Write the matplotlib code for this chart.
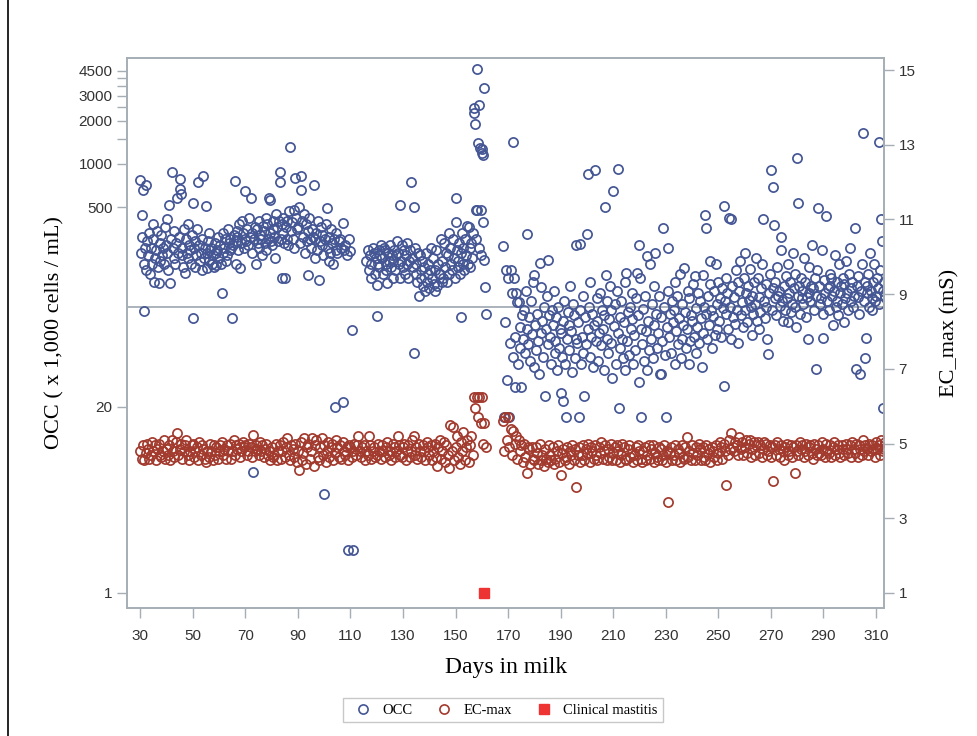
import matplotlib.pyplot as plt
from matplotlib.lines import Line2D
from matplotlib.ticker import FixedLocator, NullFormatter

# OCC readings (x 1,000 cells/mL), one inner list per day in milk
occ_start_a = 30
occ_a = [
    [770, 240, 310, 440], [660, 94, 200, 260], [710, 180, 290], [230, 330, 170], [260, 200, 380],
    [300, 150, 220], [250, 340, 190], [147, 280, 210], [320, 230, 260], [200, 360, 270],
    [410, 240, 180], [520, 147, 300], [880, 260, 220], [340, 200, 280], [575, 240, 310],
    [790, 670, 620, 230], [260, 190, 350], [172, 300, 240], [220, 380, 270], [250, 200, 320],
    [530, 84, 260, 290], [190, 230, 350], [750, 270, 210], [240, 300, 180], [820, 220, 260],
    [505, 188, 240, 290], [210, 330, 250], [260, 200, 230], [190, 280, 240], [197, 250, 310],
    [220, 270, 200], [125, 240, 330], [260, 300, 210], [230, 350, 280], [300, 250, 260],
    [84, 270, 320], [760, 200, 290, 340], [310, 250, 380], [188, 280, 400], [330, 260, 300],
    [650, 290, 350], [270, 420, 310], [575, 330, 240], [7.0, 300, 360], [200, 350, 280],
    [260, 400, 320], [300, 230, 370], [340, 280, 420], [250, 380, 300], [575, 560, 330, 290],
    [270, 400, 350], [310, 220, 450], [360, 290, 400], [880, 750, 300, 380], [160, 330, 420, 280],
    [160, 360, 300], [400, 270, 470], [1320, 340, 390], [300, 480, 260], [800, 420, 350],
    [360, 500, 280], [820, 655, 400], [310, 450, 240], [380, 290, 340], [167, 420, 300],
    [260, 350, 310], [710, 300, 220], [330, 250, 400], [155, 290, 360], [270, 320, 230],
    [4.9, 300, 380], [490, 260, 210], [310, 240, 350], [280, 200, 300], [20, 330, 250],
    [240, 290], [300, 260], [21.6, 385, 250], [270, 230], [2.0, 300],
    [245, 69], [2.0],
]

occ_start_b = 116
occ_b = [
    [210, 250], [180, 230, 160], [200, 260], [240, 170, 220], [87, 142, 200, 250],
    [190, 230, 270], [220, 170, 260], [250, 200, 180], [147, 240, 210], [270, 190, 230],
    [210, 160, 250], [180, 230, 290], [240, 200, 160], [515, 210, 270], [190, 250, 170],
    [230, 280, 200], [160, 210, 250], [750, 220, 190], [48, 500, 260, 170], [200, 150, 240],
    [119, 230, 180], [160, 210, 140], [190, 130, 240], [150, 200, 170], [135, 180, 260],
    [160, 220, 145], [180, 130, 250], [140, 200, 170], [170, 300, 150], [210, 160, 280],
    [190, 240, 150], [230, 170, 330], [260, 200, 180], [300, 220, 160], [575, 395, 250, 190],
    [210, 280, 170], [85, 240, 330, 200], [260, 180, 300], [230, 370, 200], [360, 260, 190],
    [280, 220, 330], [2450, 2270, 1900, 480, 300], [4600, 480, 1400, 260],
    [2600, 1300, 480, 230], [1280, 1200, 1150, 395, 213], [3400, 138, 89],
]

occ_start_c = 168
occ_c = [
    [268, 17], [79, 180, 31], [160, 17, 56], [180, 125, 45], [1420, 160, 62, 27.6],
    [125, 108, 40], [108, 72, 52], [27.6, 88, 60], [95, 48, 130], [323, 70, 55],
    [85, 42, 110], [65, 150, 38], [167, 75, 50], [90, 58, 34], [203, 138, 66],
    [80, 45, 100], [24, 70, 120], [213, 55, 88], [62, 40, 95], [75, 130, 48],
    [58, 85, 36], [100, 52, 70], [25, 66, 45, 22], [80, 110, 40], [17, 60, 92],
    [50, 75, 140], [68, 35, 105], [88, 44, 60], [270, 56, 78], [17, 275, 95, 40],
    [62, 120, 48], [24, 85, 55], [325, 850, 70, 100], [45, 150, 62], [90, 38, 75],
    [910, 58, 115], [80, 42, 66], [125, 54, 95], [70, 36, 88], [500, 167, 60, 110],
    [48, 82, 140], [95, 56, 32], [650, 74, 105], [40, 130, 66], [930, 19.7, 85, 52],
    [110, 60, 44], [78, 150, 36], [172, 58, 92], [46, 100, 70], [82, 125, 40],
    [64, 50, 115], [172, 88, 30], [270, 160, 17, 70], [55, 96, 42], [120, 68, 36],
    [227, 80, 50], [200, 60, 105], [44, 140, 75], [240, 90, 52], [66, 120, 34],
    [34, 85, 58], [355, 100, 46], [17, 72, 130], [260, 62, 90], [48, 110, 78],
    [95, 40, 150], [68, 120, 55], [84, 170, 44], [105, 60, 75], [188, 92, 52],
    [70, 130, 40], [115, 58, 88], [80, 145, 62], [164, 98, 48], [72, 125, 56],
    [110, 84, 38], [167, 66, 100], [440, 355, 90, 60], [120, 75, 145], [210, 95, 52],
    [86, 130, 64], [200, 105, 70], [150, 80, 115], [62, 135, 98], [505, 28, 110, 160],
    [90, 125, 70], [420, 100, 60], [410, 140, 85], [118, 76, 180], [95, 150, 56],
    [130, 210, 88], [108, 72, 160], [240, 95, 125], [78, 140, 112], [185, 100, 64],
    [120, 90, 150], [105, 220, 80], [160, 118, 70], [92, 135, 200], [410, 110, 84],
    [145, 100, 60], [47, 125, 170], [910, 95, 135], [690, 375, 115, 150], [88, 190, 120],
    [130, 102, 250], [307, 110, 80], [140, 95, 165], [115, 78, 200], [125, 150, 92],
    [105, 240, 135], [170, 100, 72], [1100, 530, 120, 140], [90, 160, 115], [130, 105, 220],
    [150, 85, 118], [60, 190, 125], [110, 140, 270], [135, 95, 160], [37, 120, 180],
    [495, 140, 105], [115, 250, 90], [61, 155, 125], [435, 110, 135], [95, 170, 140],
    [160, 120, 75], [130, 230, 100], [110, 150, 88], [200, 125, 140], [105, 160, 78],
    [145, 115, 210], [125, 95, 170], [260, 135, 110], [150, 100, 120], [355, 37, 140],
    [118, 165, 90], [34, 130, 200], [1650, 110, 150], [44, 61, 140, 125], [170, 100, 240],
    [130, 115, 95], [150, 200, 110], [120, 160, 135], [1430, 105, 180], [410, 290, 19.7, 130],
    [150, 120],
]

# EC_max (mS), two milkings per day
ec_start_a = 30
ec_a = [
    4.8, 4.6, 4.95, 4.55, 4.75, 5.0, 4.85, 4.6, 4.7, 5.05, 4.8, 4.95, 4.55, 4.85, 5.0, 4.7, 4.65, 4.8, 5.1, 4.6,
    4.85, 4.7, 4.95, 4.55, 5.1, 4.8, 4.65, 5.05, 5.28, 4.7, 4.85, 5.0, 4.6, 4.8, 4.95, 5.1, 4.7, 4.55, 4.8, 4.95,
    5.0, 4.65, 4.8, 4.9, 4.55, 5.05, 4.7, 4.95, 4.85, 4.6, 4.5, 4.8, 4.65, 5.0, 4.8, 4.55, 4.95, 4.7, 4.9, 4.6,
    4.8, 4.95, 5.05, 4.7, 4.85, 4.6, 4.95, 4.8, 5.0, 4.6, 4.8, 5.1, 4.7, 4.95, 4.85, 5.0, 4.65, 4.8, 5.05, 4.9,
    4.95, 4.7, 4.8, 5.0, 4.9, 4.65, 5.23, 4.8, 4.95, 4.85, 4.7, 5.05, 4.8, 4.95, 4.65, 4.85, 5.0, 4.7, 4.8, 4.55,
    4.9, 4.65, 4.7, 5.0, 4.55, 4.8, 4.95, 4.6, 4.8, 5.05, 4.65, 4.9, 5.15, 4.7, 4.55, 4.95, 4.85, 4.65, 5.0, 4.5,
    4.8, 4.3, 5.05, 4.55, 4.75, 5.15, 4.45, 4.9, 5.0, 4.6, 4.8, 5.15, 4.4, 4.95, 5.1, 4.65, 4.55, 4.9, 5.15, 4.7,
    4.95, 4.5, 4.8, 5.05, 4.65, 4.9, 5.0, 4.55, 4.75, 5.1, 4.9, 4.65, 4.95, 4.6, 5.05, 4.8, 4.7, 4.9, 4.55, 4.95,
    4.9, 4.65, 4.8, 5.0, 4.7, 4.95, 5.2, 4.8, 4.65, 4.9, 4.95, 4.55, 4.8, 4.7, 5.2, 4.95, 4.6, 4.8, 4.9, 4.65,
    4.7, 5.0, 4.8, 4.6, 4.95, 4.8, 4.65, 4.9, 5.05, 4.7, 4.8, 4.55, 5.0, 4.9, 4.65, 4.8, 5.2, 4.95, 4.7, 4.65,
    4.9, 5.0, 4.55, 4.8, 4.95, 4.65, 4.8, 5.1, 5.2, 4.7, 4.9, 4.6, 5.0, 4.8, 4.65, 4.95, 4.8, 4.55, 5.05, 4.9,
    4.7, 4.95, 4.55, 4.8, 5.0, 4.65, 4.4, 4.9, 5.1, 4.6, 4.8, 5.05, 4.5, 4.95, 4.7, 4.35, 5.5, 4.8, 5.45, 4.55,
    4.9, 5.2, 4.65, 4.45, 5.05, 4.8, 5.3, 4.55, 4.9, 5.1, 4.5, 4.95, 5.2, 4.7, 6.25, 5.95, 6.25, 5.7, 6.25, 5.55,
    6.25, 5.0, 5.55, 4.9,
]

ec_start_b = 168
ec_b = [
    5.6, 4.8, 5.7, 5.1, 5.7, 4.9, 5.4, 4.7, 5.35, 5.0, 5.2, 4.6, 5.1, 4.8, 4.95, 4.5, 5.0, 4.65, 4.2, 4.9,
    4.85, 4.45, 4.9, 4.6, 4.55, 4.9, 4.75, 4.45, 5.0, 4.55, 4.7, 4.4, 4.85, 4.6, 4.5, 4.95, 4.7, 4.55, 4.9, 4.45,
    4.6, 4.8, 4.95, 4.5, 4.15, 4.75, 4.85, 4.55, 4.65, 4.9, 4.45, 4.8, 4.7, 4.95, 4.55, 4.85, 3.84, 4.7, 4.9, 4.5,
    4.7, 4.95, 4.55, 4.85, 4.75, 5.0, 4.5, 4.9, 4.8, 4.6, 4.95, 4.7, 4.55, 4.9, 4.75, 5.05, 4.6, 4.8, 4.95, 4.55,
    4.85, 4.65, 5.0, 4.55, 4.75, 4.9, 4.55, 4.95, 4.8, 4.5, 4.7, 5.0, 4.9, 4.6, 4.55, 4.85, 4.95, 4.65, 4.75, 4.5,
    4.7, 4.9, 4.55, 4.95, 4.8, 4.6, 4.5, 4.8, 4.9, 4.55, 4.7, 4.95, 4.6, 4.85, 4.95, 4.5, 4.75, 4.65, 4.55, 4.9,
    4.85, 4.55, 4.7, 4.95, 4.5, 4.8, 3.44, 4.75, 4.9, 4.55, 4.7, 4.95, 4.55, 4.85, 4.75, 4.5, 4.95, 4.65, 4.6, 4.9,
    5.18, 4.65, 4.8, 4.55, 4.95, 4.75, 4.55, 4.9, 4.7, 5.0, 4.85, 4.55, 4.9, 4.65, 4.55, 4.95, 4.75, 4.85, 4.5, 4.9,
    4.8, 4.65, 4.95, 4.55, 4.75, 5.05, 4.9, 4.6, 5.0, 4.8, 3.9, 4.7, 5.1, 4.85, 5.28, 4.9, 4.8, 5.05, 4.95, 4.7,
    5.18, 4.85, 5.05, 4.7, 4.9, 5.1, 4.75, 5.0, 5.1, 4.65, 4.85, 5.05, 4.7, 4.95, 5.05, 4.75, 4.95, 4.65, 4.85, 5.05,
    5.0, 4.7, 4.8, 4.95, 4.65, 4.9, 4.0, 4.95, 4.7, 5.05, 4.85, 4.65, 4.95, 4.8, 4.55, 4.9, 5.0, 4.7, 4.8, 4.95,
    4.65, 4.9, 4.2, 4.95, 4.8, 4.7, 5.05, 4.85, 4.95, 4.65, 4.8, 5.0, 4.7, 4.9, 4.95, 4.75, 4.6, 5.0, 4.85, 4.7,
    4.95, 4.75, 4.7, 5.05, 4.85, 4.65, 5.0, 4.8, 4.75, 4.95, 4.65, 4.9, 5.05, 4.7, 4.85, 4.95, 4.75, 4.65, 4.95, 4.85,
    4.7, 5.0, 4.85, 4.75, 4.95, 4.65, 5.05, 4.85, 4.75, 5.0, 4.65, 4.95, 4.85, 4.7, 5.1, 4.8, 4.95, 4.85, 4.7, 5.0,
    4.8, 4.95, 4.85, 4.65, 5.05, 4.85, 4.95, 4.7, 5.1, 4.8, 4.85, 5.05,
]

mastitis_day = [161]
mastitis_val = [1]

occ_ticks = [1, 20, 500, 1000, 2000, 3000, 4500]
occ_minor = [1500, 2500, 3500, 4000]
ec_ticks = [1, 3, 5, 7, 9, 11, 13, 15]
day_ticks = list(range(30, 311, 20))
occ_threshold = 100

BLUE = '#445694'
RED = '#A23A2E'
GRID = '#A5ADB5'
TICKC = '#333333'


def expand(start, per_day):
    xs, ys = [], []
    for i, vals in enumerate(per_day):
        for j, v in enumerate(vals):
            xs.append(start + i + j / len(vals))
            ys.append(v)
    return xs, ys


occ_x, occ_y = [], []
for st, seg in [(occ_start_a, occ_a), (occ_start_b, occ_b), (occ_start_c, occ_c)]:
    xs, ys = expand(st, seg)
    occ_x += xs
    occ_y += ys

ec_x = [ec_start_a + i / 2 for i in range(len(ec_a))] + [ec_start_b + i / 2 for i in range(len(ec_b))]
ec_y = ec_a + ec_b

plt.rcParams['font.family'] = 'Liberation Sans'
fig = plt.figure(figsize=(9.78, 7.36), dpi=100)
ax = fig.add_axes([0.130, 0.174, 0.774, 0.747])
ax2 = ax.twinx()

mk = dict(marker='o', linestyle='none', markersize=6.6, markerfacecolor='none', markeredgewidth=1.25)
ax.plot(occ_x, occ_y, markeredgecolor=BLUE, **mk)
ax.axhline(occ_threshold, color=GRID, lw=1.3, zorder=1)
ax.plot(mastitis_day, mastitis_val, marker='s', linestyle='none', markersize=7,
        color='#EE3333', clip_on=False, zorder=5)
ax2.plot(ec_x, ec_y, markeredgecolor=RED, **mk)

ax.set_yscale('log')
ax.set_ylim(0.785, 5500)
ax2.set_ylim(0.6, 15.32)
ax.set_xlim(25, 313.1)

ax.set_yticks(occ_ticks)
ax.set_yticklabels([str(t) for t in occ_ticks])
ax.yaxis.set_minor_locator(FixedLocator(occ_minor))
ax.yaxis.set_minor_formatter(NullFormatter())
ax.set_xticks(day_ticks)
ax2.set_yticks(ec_ticks)

for a in (ax, ax2):
    for s in a.spines.values():
        s.set_color(GRID)
        s.set_linewidth(1.2)
    a.tick_params(which='both', color=GRID, width=1, labelcolor=TICKC, labelsize=11, length=7)
ax.tick_params(axis='x', pad=8)

ax.set_xlabel('Days in milk', family='Liberation Serif', fontsize=17, labelpad=10)
ax.set_ylabel('OCC ( x 1,000 cells / mL)', family='Liberation Serif', fontsize=16, labelpad=10)
ax2.set_ylabel('EC_max (mS)', family='Liberation Serif', fontsize=16, labelpad=18)

handles = [
    Line2D([], [], marker='o', linestyle='none', markersize=6.6, markerfacecolor='none',
           markeredgecolor=BLUE, markeredgewidth=1.2),
    Line2D([], [], marker='o', linestyle='none', markersize=6.6, markerfacecolor='none',
           markeredgecolor=RED, markeredgewidth=1.2),
    Line2D([], [], marker='s', linestyle='none', markersize=7, color='#EE3333'),
]
leg = fig.legend(handles, ['OCC', 'EC-max', 'Clinical mastitis'], loc='center',
                 bbox_to_anchor=(503 / 978, 1 - 710 / 736), ncol=3, frameon=True,
                 fancybox=False, edgecolor='#BBBBBB', handletextpad=0.3, columnspacing=1.2,
                 prop={'family': 'Liberation Serif', 'size': 10.5}, borderpad=0.4)
leg.get_frame().set_linewidth(1)

fig.add_artist(Line2D([8 / 978, 8 / 978], [0, 1], color='black', lw=1.2))

fig.savefig('out.png', dpi=100)
